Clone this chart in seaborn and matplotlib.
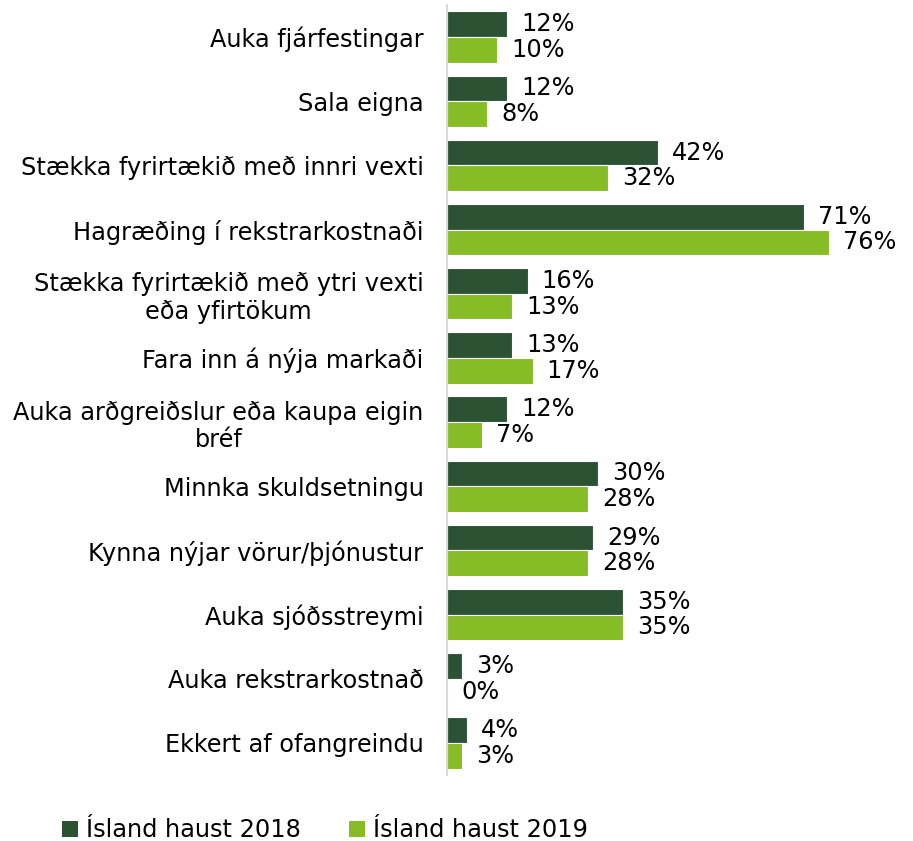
import pandas as pd
import matplotlib
matplotlib.use("Agg")
import matplotlib.pyplot as plt
import seaborn as sns
from matplotlib.patches import Patch

categories = [
    "Auka fjárfestingar",
    "Sala eigna",
    "Stækka fyrirtækið með innri vexti",
    "Hagræðing í rekstrarkostnaði",
    "Stækka fyrirtækið með ytri vexti\neða yfirtökum",
    "Fara inn á nýja markaði",
    "Auka arðgreiðslur eða kaupa eigin\nbréf",
    "Minnka skuldsetningu",
    "Kynna nýjar vörur/þjónustur",
    "Auka sjóðsstreymi",
    "Auka rekstrarkostnað",
    "Ekkert af ofangreindu",
]
series_names = ["Ísland haust 2018", "Ísland haust 2019"]
values_2018 = [12, 12, 42, 71, 16, 13, 12, 30, 29, 35, 3, 4]
values_2019 = [10, 8, 32, 76, 13, 17, 7, 28, 28, 35, 0, 3]
colors = ["#2c5234", "#86bc25"]

df = pd.DataFrame({
    "category": categories * 2,
    "value": values_2018 + values_2019,
    "series": [series_names[0]] * len(categories) + [series_names[1]] * len(categories),
})

sns.set_theme(style="white")
plt.rcParams["font.family"] = ["DejaVu Sans"]
fs = 17.3

fig = plt.figure(figsize=(9.13, 8.41), dpi=100)
ax = fig.add_axes([0.4896, 0.0785, 0.4994, 0.9155])

sns.barplot(data=df, y="category", x="value", hue="series", orient="h",
            palette=colors, saturation=1, width=0.8, edgecolor="white",
            linewidth=0.8, legend=False, ax=ax)

# percentage labels at the bar ends
for cont in ax.containers:
    ax.bar_label(cont, labels=[f"{v:.0f}%" for v in cont.datavalues],
                 padding=10, fontsize=fs, color="black")

ax.set_xlim(0, 90.6)
ax.set_ylim(len(categories) - 0.5, -0.5)
ax.set_xlabel("")
ax.set_ylabel("")
ax.set_xticks([])
ax.tick_params(axis="y", length=0, pad=17, labelsize=fs, labelcolor="black")
for lbl in ax.get_yticklabels():
    lbl.set_multialignment("center")

for side in ["top", "right", "bottom"]:
    ax.spines[side].set_visible(False)
ax.spines["left"].set_color("#d9d9d9")
ax.spines["left"].set_linewidth(1.5)

handles = [Patch(facecolor=c, edgecolor="none") for c in colors]
leg = fig.legend(handles, series_names, loc="lower center", ncol=2, frameon=False,
                 fontsize=fs, bbox_to_anchor=(0.356, -0.027), handlelength=0.65,
                 handleheight=0.65, handletextpad=0.35, columnspacing=2.0)
for t in leg.get_texts():
    t.set_color("black")

fig.savefig("out.png", dpi=100)
